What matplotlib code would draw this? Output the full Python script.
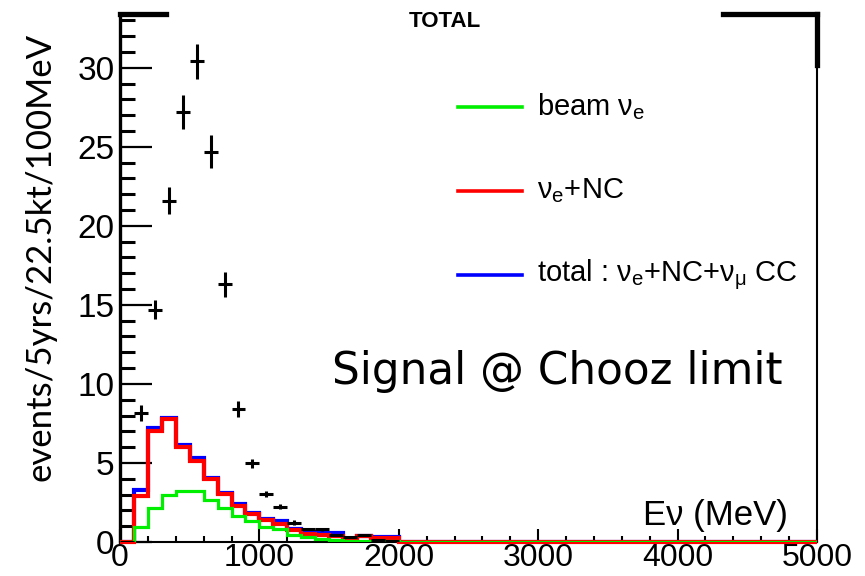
import numpy as np
import matplotlib
matplotlib.use("Agg")
import matplotlib.pyplot as plt
from matplotlib.ticker import MultipleLocator
from matplotlib.lines import Line2D

plt.rcParams['font.family'] = ['Liberation Sans', 'DejaVu Sans']
plt.rcParams['mathtext.fontset'] = 'custom'
plt.rcParams['mathtext.rm'] = 'Liberation Sans'
plt.rcParams['mathtext.it'] = 'Liberation Sans:italic'

# ---- data (bins of 100 MeV from 0 to 5000) ----
bin_edges = np.arange(0, 5001, 100)

beam_nue = [0, 0.97, 2.13, 2.95, 3.2, 3.2, 2.66, 2.13, 1.65, 1.35,
            0.97, 0.82, 0.44, 0.30, 0.17, 0.10, 0.05, 0.08, 0.02, 0.05]
nue_nc = [0, 2.9, 7.0, 7.8, 6.0, 5.1, 4.0, 3.05, 2.28, 1.8,
          1.4, 1.14, 0.76, 0.50, 0.42, 0.35, 0.13, 0.35, 0.25, 0.25]
total = [0, 3.3, 7.2, 7.85, 6.15, 5.3, 4.05, 3.1, 2.4, 1.85,
         1.45, 1.3, 0.85, 0.65, 0.60, 0.55, 0.20, 0.40, 0.30, 0.30]

data_x = [50, 150, 250, 350, 450, 550, 650, 750, 850, 950, 1050, 1150, 1250,
          1350, 1450, 1550, 1650, 1750, 1850, 1950]
data_y = [0, 8.15, 14.7, 21.6, 27.2, 30.4, 24.7, 16.3, 8.4, 4.98, 3.04, 2.24, 1.22,
          0.82, 0.80, 0.45, 0.30, 0.44, 0.12, 0.05]
data_err = [0, 0.5, 0.6, 0.85, 1.05, 1.1, 1.05, 0.8, 0.5, 0.28, 0.2, 0.17, 0.17,
            0.08, 0.08, 0.06, 0.05, 0.05, 0.03, 0.02]

legend_labels = ["beam ν$_\\mathrm{e}$", "ν$_\\mathrm{e}$+NC",
                 "total : ν$_\\mathrm{e}$+NC+ν$_\\mathrm{\\mu}$ CC"]
legend_colors = ["#00ee00", "#ff0000", "#0000ff"]

def pad(vals):
    return np.array(list(vals) + [0] * (len(bin_edges) - 1 - len(vals)), dtype=float)

fig = plt.figure(figsize=(8.65, 5.76), dpi=100)
ax = fig.add_axes([120/865, 34/576, 697/865, 528/576])

ax.stairs(pad(total), bin_edges, color="#0000ff", lw=3.0, zorder=2)
ax.stairs(pad(nue_nc), bin_edges, color="#ff0000", lw=3.0, zorder=3, clip_on=False)
ax.stairs(pad(beam_nue), bin_edges, color="#00ee00", lw=2.3, zorder=4)
ax.errorbar(data_x, data_y, yerr=data_err, xerr=50, fmt='none',
            ecolor='black', elinewidth=2.2, capsize=0, zorder=5)

ax.set_xlim(0, 5000)
ax.set_ylim(0, 33.4)
ax.xaxis.set_major_locator(MultipleLocator(1000))
ax.xaxis.set_minor_locator(MultipleLocator(200))
ax.yaxis.set_major_locator(MultipleLocator(5))
ax.yaxis.set_minor_locator(MultipleLocator(1))
ax.tick_params(axis='x', which='major', direction='in', length=9.5, width=1.5,
               labelsize=23, pad=1)
ax.tick_params(axis='x', which='minor', direction='in', length=4.5, width=1.5)
ax.tick_params(axis='y', which='major', direction='in', length=23, width=1.6,
               labelsize=24, pad=4)
ax.tick_params(axis='y', which='minor', direction='in', length=11, width=2.2)

ax.spines['top'].set_visible(False)
ax.spines['left'].set_linewidth(2.4)
ax.spines['bottom'].set_linewidth(1.5)
ax.spines['right'].set_linewidth(1.5)
for xs, ys in [([0, 0.066], [1, 1]), ([0.865, 1.0], [1, 1]), ([1.0, 1.0], [1, 0.903])]:
    ax.add_line(Line2D(xs, ys, transform=ax.transAxes, color='black', lw=3.8,
                       clip_on=False, solid_capstyle='projecting'))

# legend
for i, (lab, col) in enumerate(zip(legend_labels, legend_colors)):
    y = [0.824, 0.665, 0.506][i]
    ax.add_line(Line2D([0.485, 0.577], [y, y], transform=ax.transAxes, color=col, lw=2.6))
    ax.text(0.598, y, lab, transform=ax.transAxes, fontsize=21, va='center', ha='left')

ax.text(0.628, 0.322, "Signal @ Chooz limit", transform=ax.transAxes, fontsize=31.5,
        family='DejaVu Sans', ha='center', va='center')
ax.text(0.958, 0.051, "Eν (MeV)", transform=ax.transAxes, fontsize=25,
        ha='right', va='center')

fig.text(0.514, 0.962, "TOTAL", fontsize=16, weight='bold', ha='center', va='center')
fig.text(0.047, 0.554, "events/5yrs/22.5kt/100MeV", rotation=90, fontsize=25,
         family=['Lato', 'DejaVu Sans'], ha='center', va='center')

fig.savefig("out.png", dpi=100)
